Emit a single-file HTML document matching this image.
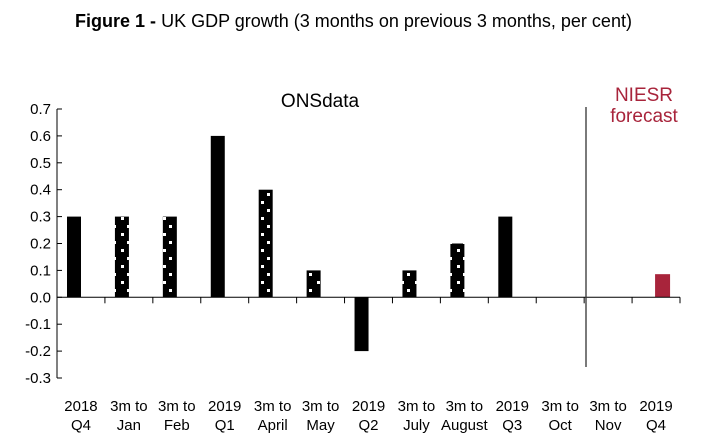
<!DOCTYPE html>
<html><head><meta charset="utf-8"><style>
body{margin:0;background:#fff;width:707px;height:433px;overflow:hidden;font-family:"Liberation Sans",sans-serif}
#title{position:absolute;left:0;width:707px;top:11px;text-align:center;font-size:18px;color:#000}
</style></head><body>
<div id="title"><b>Figure 1 -</b> UK GDP growth (3 months on previous 3 months, per cent)</div>
<svg id="c" width="707" height="433" style="position:absolute;left:0;top:0">
<defs><pattern id="dots" width="14" height="16" patternUnits="userSpaceOnUse" x="0" y="0">
<rect width="14" height="16" fill="#000"/><rect x="1" y="1" width="3" height="3" fill="#fff"/><rect x="9" y="9" width="3" height="3" fill="#fff"/></pattern></defs>
</svg>
<script>
const categories=[["2018","Q4"],["3m to","Jan"],["3m to","Feb"],["2019","Q1"],["3m to","April"],["3m to","May"],["2019","Q2"],["3m to","July"],["3m to","August"],["2019","Q3"],["3m to","Oct"],["3m to","Nov"],["2019","Q4"]];
const onsValues=[0.3,0.3,0.3,0.6,0.4,0.1,-0.2,0.1,0.2,0.3,null,null,null];
const patterned=[false,true,true,false,true,true,false,true,true,false,false,false,false];
const forecastValues=[null,null,null,null,null,null,null,null,null,null,null,null,0.086];
const yTicks=[0.7,0.6,0.5,0.4,0.3,0.2,0.1,0.0,-0.1,-0.2,-0.3];
const svg=document.getElementById('c');const NS='http://www.w3.org/2000/svg';
const x0=57,x1=680,yTop=109,yBot=378,ymax=0.7,ymin=-0.3;
const bw=(x1-x0)/categories.length;
const y=v=>yTop+(ymax-v)/(ymax-ymin)*(yBot-yTop);
const xc=i=>x0+i*bw;
function mk(t,a){const e=document.createElementNS(NS,t);for(const k in a)e.setAttribute(k,a[k]);svg.appendChild(e);return e;}
let e=mk('line',{x1:x0,y1:yTop,x2:x0,y2:yBot,stroke:'#000'});


yTicks.forEach(v=>{mk('line',{x1:x0,x2:x0+5,y1:y(v),y2:y(v),stroke:'#000'});
const t=mk('text',{x:x0-6,y:y(v)+5,'text-anchor':'end','font-size':'15'});t.textContent=v.toFixed(1);

});
categories.forEach((c,i)=>{
const v=onsValues[i];
if(v!==null){const top=Math.min(y(v),y(0)),h=Math.abs(y(v)-y(0));
const r=mk('rect',{x:xc(i)+10,y:top,width:14,height:h,fill:patterned[i]?'url(#dots)':'#000'});

}
const f=forecastValues[i];
if(f!==null){const top=Math.min(y(f),y(0)),h=Math.abs(y(f)-y(0));
const r=mk('rect',{x:xc(i)+23,y:top,width:15,height:h,fill:'#a8243b'});

}
mk('line',{x1:xc(i+1),x2:xc(i+1),y1:y(0),y2:y(0)+6,stroke:'#000'});
c.forEach((s,j)=>{const t=mk('text',{x:xc(i)+bw/2,y:yBot+33+j*19,'text-anchor':'middle','font-size':'15'});t.textContent=s;

});
});
e=mk('line',{x1:x0,y1:y(0),x2:x1,y2:y(0),stroke:'#000'});


e=mk('line',{x1:586,y1:107,x2:586,y2:367,stroke:'#333','stroke-width':1.3});


e=mk('text',{x:320,y:107,'text-anchor':'middle','font-size':'19'});e.textContent='ONSdata';


e=mk('text',{x:644,y:101,'text-anchor':'middle','font-size':'19',fill:'#a8243b'});e.textContent='NIESR';


e=mk('text',{x:644,y:122,'text-anchor':'middle','font-size':'19',fill:'#a8243b'});e.textContent='forecast';


</script>
</body></html>
